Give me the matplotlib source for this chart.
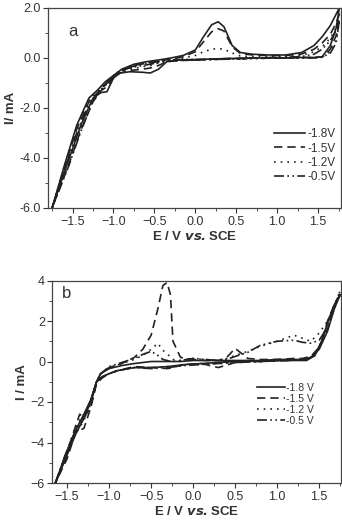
import matplotlib
matplotlib.use("Agg")
import matplotlib.pyplot as plt
from matplotlib.ticker import MultipleLocator

plt.rcParams['font.family'] = ['Liberation Sans', 'DejaVu Sans']

# ---- panel a : potential (V) and current (mA), forward then reverse sweep
a_E = [-1.75, -1.6, -1.45, -1.3, -1.2, -1.1, -1.0, -0.9, -0.75, -0.6, -0.45,
       -0.3, -0.15, 0.0, 0.1, 0.2, 0.28, 0.35, 0.45, 0.55, 0.7, 0.9, 1.1,
       1.3, 1.45, 1.55, 1.65, 1.72, 1.76,
       1.72, 1.65, 1.55, 1.45, 1.3, 1.0, 0.7, 0.4, 0.2, 0.0, -0.2, -0.35,
       -0.45, -0.55, -0.65, -0.8, -0.92, -1.0, -1.08, -1.15, -1.25, -1.4,
       -1.55, -1.75]
a_18 = [-6.0, -4.3, -2.7, -1.6, -1.3, -0.95, -0.7, -0.45, -0.25, -0.15, -0.08,
        0.0, 0.1, 0.32, 0.85, 1.33, 1.45, 1.25, 0.5, 0.22, 0.15, 0.12, 0.12,
        0.22, 0.5, 0.85, 1.3, 1.75, 2.0,
        1.2, 0.5, 0.05, 0.02, 0.02, 0.0, 0.0, -0.02, -0.04, -0.06, -0.08,
        -0.15, -0.45, -0.6, -0.57, -0.55, -0.6, -0.8, -1.35, -1.38, -1.6,
        -2.7, -4.1, -6.0]
a_15 = [-6.0, -4.4, -2.85, -1.75, -1.4, -1.05, -0.75, -0.5, -0.3, -0.2, -0.12,
        -0.05, 0.05, 0.25, 0.65, 1.05, 1.17, 1.08, 0.45, 0.18, 0.12, 0.1,
        0.1, 0.16, 0.35, 0.6, 0.95, 1.4, 1.75,
        0.9, 0.35, 0.04, 0.02, 0.02, 0.0, 0.0, -0.02, -0.05, -0.08, -0.1,
        -0.15, -0.3, -0.4, -0.45, -0.5, -0.6, -0.8, -1.15, -1.3, -1.75,
        -2.9, -4.3, -6.0]
a_12 = [-6.0, -4.35, -2.8, -1.7, -1.35, -1.0, -0.72, -0.48, -0.3, -0.2,
        -0.12, -0.06, 0.0, 0.1, 0.25, 0.35, 0.38, 0.35, 0.2, 0.08, 0.05, 0.05,
        0.05, 0.1, 0.25, 0.45, 0.8, 1.2, 1.55,
        0.7, 0.25, 0.04, 0.02, 0.0, 0.0, -0.02, -0.04, -0.06, -0.08, -0.1,
        -0.12, -0.2, -0.3, -0.35, -0.45, -0.55, -0.75, -1.05, -1.2, -1.6,
        -2.8, -4.2, -6.0]
a_05 = [-6.0, -4.5, -3.0, -1.85, -1.45, -1.1, -0.75, -0.5, -0.32, -0.22,
        -0.14, -0.08, -0.06, -0.06, -0.06, -0.05, -0.05, -0.05, -0.04, -0.03,
        0.0, 0.02, 0.03, 0.06, 0.15, 0.35, 0.7, 1.1, 1.5,
        0.6, 0.2, 0.03, 0.0, 0.0, 0.0, -0.02, -0.04, -0.06, -0.08, -0.1,
        -0.12, -0.18, -0.25, -0.3, -0.4, -0.5, -0.7, -1.0, -1.25, -1.7,
        -2.95, -4.35, -6.0]

# ---- panel b
b_E = [-1.64, -1.52, -1.4, -1.35, -1.3, -1.22, -1.15, -1.1, -1.0, -0.85,
       -0.7, -0.6, -0.5, -0.42, -0.36, -0.31, -0.27, -0.24, -0.15, 0.0, 0.15,
       0.3, 0.4, 0.5, 0.65, 0.8, 1.0, 1.2, 1.3, 1.4, 1.5, 1.6, 1.68, 1.75,
       1.68, 1.6, 1.53, 1.45, 1.35, 1.1, 0.8, 0.5, 0.3, 0.1, -0.1, -0.3, -0.5,
       -0.7, -0.9, -1.0, -1.08, -1.15, -1.22, -1.3, -1.4, -1.5, -1.64]
b_18 = [-6.0, -4.6, -3.4, -3.0, -2.6, -1.9, -1.0, -0.6, -0.35, -0.2,
        -0.1, -0.05, 0.0, 0.0, 0.0, 0.0, 0.0, 0.0, 0.0, 0.05, 0.05,
        0.05, 0.05, 0.05, 0.05, 0.05, 0.1, 0.1, 0.1, 0.2, 0.6, 1.5, 2.6, 3.3,
        2.8, 1.9, 1.0, 0.3, 0.05, 0.05, 0.02, 0.0, -0.05, -0.1, -0.15, -0.25,
        -0.3, -0.3, -0.45, -0.6, -0.75, -1.0, -2.0, -2.8, -3.6, -4.6, -6.0]
b_15 = [-6.0, -4.7, -3.2, -2.6, -2.8, -2.2, -1.0, -0.6, -0.3, -0.1,
        0.2, 0.6, 1.3, 2.6, 3.75, 3.9, 3.3, 1.0, 0.2, 0.1, 0.05,
        0.05, 0.2, 0.65, 0.15, 0.1, 0.1, 0.15, 0.15, 0.25, 0.7, 1.6, 2.7, 3.3,
        2.8, 2.0, 1.0, 0.3, 0.1, 0.05, 0.0, -0.05, -0.3, -0.1, -0.15, -0.35,
        -0.3, -0.25, -0.45, -0.6, -0.8, -1.1, -2.3, -3.3, -3.5, -4.8, -6.0]
b_12 = [-6.0, -4.6, -3.3, -2.9, -2.6, -2.0, -1.0, -0.6, -0.3, -0.1,
        0.1, 0.3, 0.6, 0.9, 0.55, 0.4, 0.2, 0.1, 0.05, 0.15, 0.1,
        0.05, 0.15, 0.3, 0.5, 0.75, 1.0, 1.3, 1.15, 1.0, 1.4, 2.0, 2.7, 3.5,
        2.8, 1.9, 1.0, 0.3, 0.1, 0.05, 0.0, -0.05, -0.1, -0.1, -0.15, -0.25,
        -0.3, -0.3, -0.45, -0.6, -0.8, -1.0, -2.1, -2.9, -3.6, -4.6, -6.0]
b_05 = [-6.0, -4.6, -3.4, -3.0, -2.7, -2.0, -1.0, -0.6, -0.25, -0.05,
        0.15, 0.35, 0.5, 0.3, 0.1, 0.05, 0.0, 0.0, 0.05, 0.15, 0.1,
        0.05, 0.1, 0.25, 0.45, 0.8, 1.0, 1.05, 0.95, 0.9, 1.05, 1.7, 2.6, 3.3,
        2.8, 1.9, 1.0, 0.3, 0.1, 0.05, 0.0, -0.05, -0.1, -0.15, -0.2, -0.3,
        -0.35, -0.3, -0.45, -0.6, -0.75, -1.0, -2.0, -2.8, -3.5, -4.6, -6.0]

labels_a = ["-1.8V", "-1.5V", "-1.2V", "-0.5V"]
labels_b = ["-1.8 V", "-1.5 V", "-1.2 V", "-0.5 V"]
styles = ["-", (0, (5, 3)), (0, (1, 3)), (0, (6, 2, 1, 2, 1, 2))]

ink = "#222222"
txt = "#333333"


def style_axes(ax, ylabel, panel, pos, fs):
    ax.tick_params(which="both", direction="out", colors=txt, labelsize=fs,
                   pad=2)
    ax.tick_params(which="major", length=3.5, width=0.8)
    ax.tick_params(which="minor", length=2, width=0.6)
    ax.tick_params(axis="y", pad=1.5)
    for sp in ax.spines.values():
        sp.set_color("#444444")
        sp.set_linewidth(0.9)
    ax.xaxis.set_major_locator(MultipleLocator(0.5))
    ax.xaxis.set_minor_locator(MultipleLocator(0.25))
    ax.yaxis.set_major_locator(MultipleLocator(2))
    ax.yaxis.set_minor_locator(MultipleLocator(1))
    ax.set_xlabel(r"E / V $\bfit{vs.}$SCE", fontsize=9.5, fontweight="bold",
                  color=txt, labelpad=2)
    ax.set_ylabel(ylabel, fontsize=9.5, fontweight="bold", color=txt,
                  labelpad=2)
    ax.text(pos[0], pos[1], panel, transform=ax.transAxes, fontsize=12,
            color=txt, ha="left", va="center")


fig = plt.figure(figsize=(3.42, 5.22), dpi=100)

# panel a
ax1 = fig.add_axes([48 / 342, 1 - 208 / 522, 293 / 342, 200 / 522])
for ys, ls, lab in zip([a_18, a_15, a_12, a_05], styles, labels_a):
    ax1.plot(a_E, ys, color=ink, lw=1.2, linestyle=ls, label=lab)
ax1.set_xlim(-1.8, 1.78)
ax1.set_ylim(-6, 2)
ax1.yaxis.set_major_formatter(lambda v, pos: f"{v:.1f}")
style_axes(ax1, "I/ mA", "a", (0.07, 0.88), 9)
ax1.legend(loc="upper right", bbox_to_anchor=(1.01, 0.44), frameon=False,
           fontsize=8.5, handlelength=2.6, handletextpad=0.2,
           labelspacing=0.2, borderpad=0.2, labelcolor=txt)

# panel b
ax2 = fig.add_axes([52 / 342, 1 - 483 / 522, 289 / 342, 202.5 / 522])
for ys, ls, lab in zip([b_18, b_15, b_12, b_05], styles, labels_b):
    ax2.plot(b_E, ys, color=ink, lw=1.2, linestyle=ls, label=lab)
ax2.set_xlim(-1.68, 1.76)
ax2.set_ylim(-6, 4)
style_axes(ax2, "I / mA", "b", (0.035, 0.935), 9)
ax2.legend(loc="upper right", bbox_to_anchor=(0.93, 0.53), frameon=False,
           fontsize=7.5, handlelength=2.6, handletextpad=0.1,
           labelspacing=0.1, borderpad=0.2, labelcolor=txt)

fig.savefig("out.png", dpi=100)
